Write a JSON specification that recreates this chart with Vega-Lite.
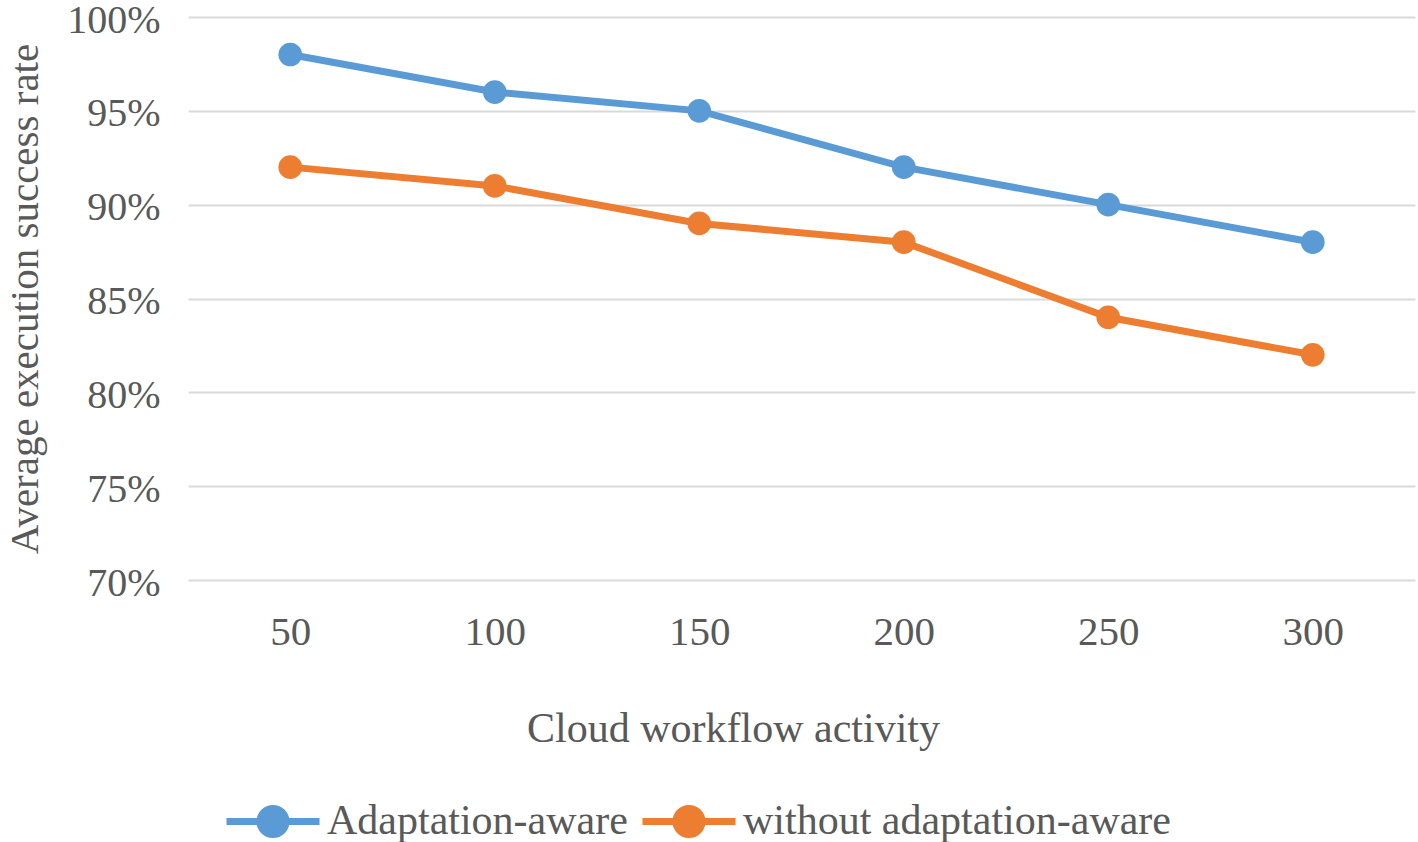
{
  "$schema": "https://vega.github.io/schema/vega-lite/v6.json",
  "width": 1227,
  "height": 563,
  "autosize": {"type": "none"},
  "padding": {"left": 188, "top": 17, "right": 3, "bottom": 262},
  "background": "white",
  "config": {
    "view": {"stroke": null},
    "font": "Liberation Serif",
    "axis": {"labelFont": "Liberation Serif", "titleFont": "Liberation Serif", "labelColor": "#595959", "titleColor": "#595959", "titleFontWeight": "normal"},
    "legend": {"labelFont": "Liberation Serif", "labelColor": "#595959"}
  },
  "data": {
    "values": [
      {"activity": "50", "series": "Adaptation-aware", "rate": 0.98},
      {"activity": "100", "series": "Adaptation-aware", "rate": 0.96},
      {"activity": "150", "series": "Adaptation-aware", "rate": 0.95},
      {"activity": "200", "series": "Adaptation-aware", "rate": 0.92},
      {"activity": "250", "series": "Adaptation-aware", "rate": 0.90},
      {"activity": "300", "series": "Adaptation-aware", "rate": 0.88},
      {"activity": "50", "series": "without adaptation-aware", "rate": 0.92},
      {"activity": "100", "series": "without adaptation-aware", "rate": 0.91},
      {"activity": "150", "series": "without adaptation-aware", "rate": 0.89},
      {"activity": "200", "series": "without adaptation-aware", "rate": 0.88},
      {"activity": "250", "series": "without adaptation-aware", "rate": 0.84},
      {"activity": "300", "series": "without adaptation-aware", "rate": 0.82}
    ]
  },
  "encoding": {
    "x": {
      "field": "activity", "type": "ordinal", "sort": null,
      "scale": {"type": "point", "padding": 0.5},
      "axis": {"title": "Cloud workflow activity", "titleX": 545, "titleAnchor": "start", "titleAlign": "center", "labelAngle": 0, "labelFontSize": 41, "titleFontSize": 42, "labelPadding": 32, "titlePadding": 56, "domain": false, "ticks": false, "grid": false}
    },
    "y": {
      "field": "rate", "type": "quantitative",
      "scale": {"domain": [0.7, 1.0], "nice": false, "zero": false},
      "axis": {"title": "Average execution success rate", "format": ".0%", "values": [0.7, 0.75, 0.8, 0.85, 0.9, 0.95, 1.0], "labelFontSize": 40, "titleFontSize": 41, "labelPadding": 28, "labelOffset": 3, "titlePadding": 20, "domain": false, "ticks": false, "grid": true, "gridColor": "#d9d9d9", "gridWidth": 2, "labelFlush": false}
    },
    "color": {
      "field": "series", "type": "nominal",
      "scale": {"domain": ["Adaptation-aware", "without adaptation-aware"], "range": ["#5b9bd5", "#ed7d31"]},
      "legend": {
        "title": null, "orient": "none", "legendX": 35, "legendY": 754, "direction": "horizontal",
        "labelFontSize": 42, "labelLimit": 0, "symbolSize": 8649, "symbolStrokeWidth": 7,
        "symbolType": "M-1,0L1,0M0.28,0A0.28,0.28,0,1,1,-0.28,0A0.28,0.28,0,1,1,0.28,0Z",
        "labelOffset": 4, "columnPadding": 0,
        "encode": {"symbols": {"update": {"fill": {"scale": "color", "field": "value"}, "stroke": {"scale": "color", "field": "value"}, "fillOpacity": {"value": 1}}}}
      }
    }
  },
  "layer": [
    {"mark": {"type": "line", "strokeWidth": 7}},
    {"mark": {"type": "point", "filled": true, "size": 560, "opacity": 1}}
  ]
}
